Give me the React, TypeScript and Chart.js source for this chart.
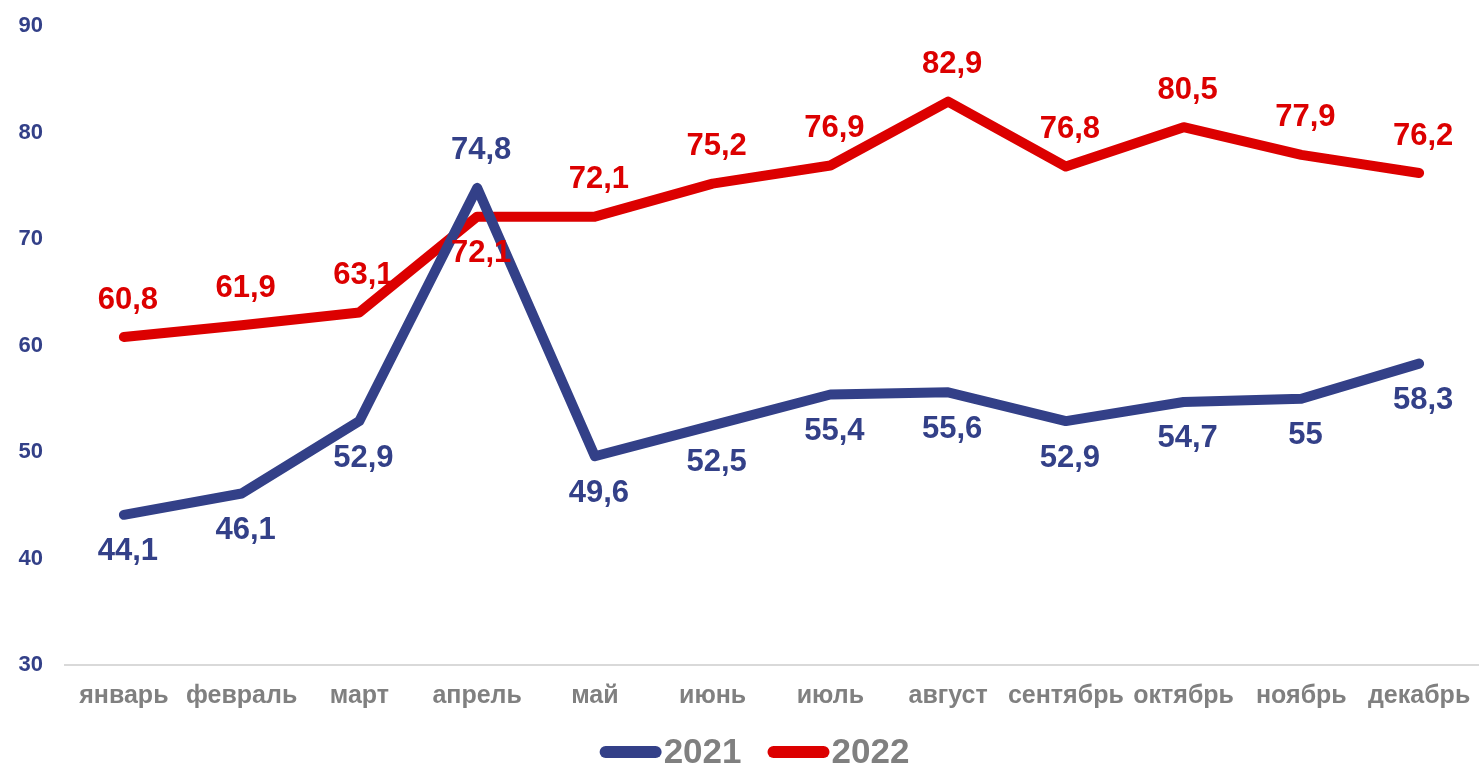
import React, { useEffect, useRef } from "react";
import { Chart, registerables } from "chart.js";

Chart.register(...registerables);

const months = ["январь", "февраль", "март", "апрель", "май", "июнь", "июль", "август", "сентябрь", "октябрь", "ноябрь", "декабрь"];
const values2021 = [44.1, 46.1, 52.9, 74.8, 49.6, 52.5, 55.4, 55.6, 52.9, 54.7, 55, 58.3];
const values2022 = [60.8, 61.9, 63.1, 72.1, 72.1, 75.2, 76.9, 82.9, 76.8, 80.5, 77.9, 76.2];
const seriesNames = ["2021", "2022"];
const yTicks = [30, 40, 50, 60, 70, 80, 90];

const BLUE = "#334088";
const RED = "#dc0000";
const GRAY = "#808080";
const FONT = "'Liberation Sans', Arial, sans-serif";

const dataLabelsPlugin = {
  id: "dataLabelsCustom",
  afterDatasetsDraw(chart: any) {
    const ctx = chart.ctx;
    ctx.save();
    ctx.font = `bold 31px ${FONT}`;
    ctx.textAlign = "center";
    ctx.textBaseline = "middle";
    chart.data.datasets.forEach((ds: any, di: number) => {
      const meta = chart.getDatasetMeta(di);
      const placement: string[] = ds.labelPlacement;
      meta.data.forEach((pt: any, i: number) => {
        const v = ds.data[i];
        const txt = String(v).replace(".", ",");
        const above = placement[i] === "above";
        const off = 37;
        ctx.fillStyle = ds.borderColor;
        ctx.fillText(txt, pt.x + 4, above ? pt.y - off : pt.y + off);
      });
    });
    ctx.restore();
  },
};

const legendPlugin = {
  id: "legendCustom",
  afterDraw(chart: any) {
    const ctx = chart.ctx;
    ctx.save();
    ctx.font = `bold 35px ${FONT}`;
    ctx.textBaseline = "middle";
    const lineLen = 62;
    const gapText = 2;
    const gapItems = 26;
    const items = chart.data.datasets.map((ds: any) => ({
      label: ds.label,
      color: ds.borderColor,
      w: lineLen + gapText + ctx.measureText(ds.label).width,
    }));
    const total = items.reduce((s: number, it: any) => s + it.w, 0) + gapItems * (items.length - 1);
    let x = chart.width / 2 + 14 - total / 2;
    const y = 752;
    items.forEach((it: any) => {
      ctx.strokeStyle = it.color;
      ctx.lineWidth = 12;
      ctx.lineCap = "round";
      ctx.beginPath();
      ctx.moveTo(x + 6, y);
      ctx.lineTo(x + lineLen - 6, y);
      ctx.stroke();
      ctx.fillStyle = GRAY;
      ctx.textAlign = "left";
      ctx.fillText(it.label, x + lineLen + gapText, y + 1);
      x += it.w + gapItems;
    });
    ctx.restore();
  },
};

export default function App() {
  const ref = useRef<HTMLCanvasElement>(null);
  useEffect(() => {
    document.body.style.margin = "0";
    const chart = new Chart(ref.current!, {
      type: "line",
      data: {
        labels: months,
        datasets: [
          {
            label: seriesNames[0],
            data: values2021,
            borderColor: BLUE,
            backgroundColor: BLUE,
            borderWidth: 10,
            pointRadius: 0,
            borderCapStyle: "round",
            borderJoinStyle: "round",
            tension: 0,
            labelPlacement: ["below", "below", "below", "above", "below", "below", "below", "below", "below", "below", "below", "below"],
          } as any,
          {
            label: seriesNames[1],
            data: values2022,
            borderColor: RED,
            backgroundColor: RED,
            borderWidth: 10,
            pointRadius: 0,
            borderCapStyle: "round",
            borderJoinStyle: "round",
            tension: 0,
            labelPlacement: ["above", "above", "above", "below", "above", "above", "above", "above", "above", "above", "above", "above"],
          } as any,
        ],
      },
      options: {
        animation: false,
        responsive: false,
        maintainAspectRatio: false,
        layout: { padding: { top: 26, right: 3, bottom: 42, left: 0 } },
        plugins: {
          legend: { display: false },
          tooltip: { enabled: false },
        },
        scales: {
          x: {
            offset: true,
            afterFit(axis: any) {
              axis.paddingLeft = 0;
              axis.paddingRight = 0;
            },
            grid: { display: false, drawTicks: false },
            border: { display: true, color: "#d9d9d9", width: 2 },
            ticks: {
              color: GRAY,
              font: { family: FONT, size: 25, weight: "bold" },
              padding: 16,
              maxRotation: 0,
              autoSkip: false,
            },
          },
          y: {
            min: yTicks[0],
            max: yTicks[yTicks.length - 1],
            afterFit(axis: any) {
              axis.width = 65;
              axis.paddingTop = 0;
              axis.paddingBottom = 0;
            },
            afterBuildTicks(axis: any) {
              axis.ticks = yTicks.map((v) => ({ value: v }));
            },
            grid: { display: false, drawTicks: false },
            border: { display: false },
            ticks: {
              color: BLUE,
              font: { family: FONT, size: 22, weight: "bold" },
              padding: 22,
            },
          },
        },
      },
      plugins: [dataLabelsPlugin, legendPlugin],
    });
    return () => chart.destroy();
  }, []);
  return (
    <div style={{ position: "fixed", left: 0, top: 0, width: 1481, height: 769, background: "#fff" }}>
      <canvas ref={ref} width={1481} height={769} style={{ width: 1481, height: 769 }} />
    </div>
  );
}
